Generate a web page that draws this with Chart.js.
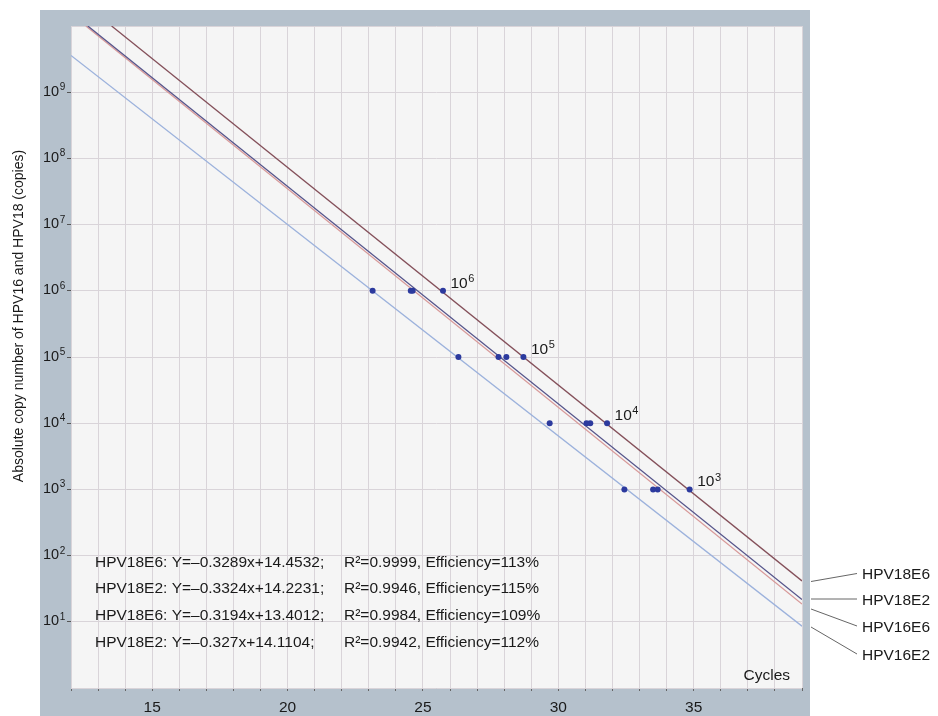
<!DOCTYPE html>
<html>
<head>
<meta charset="utf-8">
<script src="https://cdn.jsdelivr.net/npm/chart.js@4.4.1/dist/chart.umd.min.js"></script>
<style>
  html, body { margin: 0; padding: 0; background: #fff; }
  #wrap { width: 938px; height: 716px; }
</style>
</head>
<body>
<div id="wrap"><canvas id="chart" width="938" height="716"></canvas></div>
<script>
// standards (copies) and the Ct values
const standards = [1e6, 1e5, 1e4, 1e3];
const ctHPV18E6 = [25.74, 28.71, 31.80, 34.85];
const ctHPV18E2 = [24.55, 27.79, 31.04, 33.50];
const ctHPV16E6 = [24.62, 28.08, 31.18, 33.67];
const ctHPV16E2 = [23.14, 26.31, 29.68, 32.44];

// regression lines: where each one enters and leaves the plot
const lineHPV18E6 = [[13.50, 1e10], [39, 41.5]];
const lineHPV18E2 = [[12.62, 1e10], [39, 21.7]];
const lineHPV16E6 = [[12.55, 1e10], [39, 18.5]];
const lineHPV16E2 = [[12, 3.58e9], [39, 8.6]];

const seriesNames = ['HPV18E6', 'HPV18E2', 'HPV16E6', 'HPV16E2'];

// equation block (text as printed)
const eqNames = ['HPV18E6:', 'HPV18E2:', 'HPV18E6:', 'HPV18E2:'];
const eqFits = ['Y=\u20130.3289x+14.4532;', 'Y=\u20130.3324x+14.2231;', 'Y=\u20130.3194x+13.4012;', 'Y=\u20130.327x+14.1104;'];
const eqR2 = ['0.9999', '0.9946', '0.9984', '0.9942'];
const eqEff = ['113%', '115%', '109%', '112%'];

// axes
const xTicks = [12, 13, 14, 15, 16, 17, 18, 19, 20, 21, 22, 23, 24, 25, 26, 27, 28, 29, 30, 31, 32, 33, 34, 35, 36, 37, 38, 39];
const xTickLabels = [15, 20, 25, 30, 35];
const yTicks = [1, 1e1, 1e2, 1e3, 1e4, 1e5, 1e6, 1e7, 1e8, 1e9, 1e10];
const yTickExps = [1, 2, 3, 4, 5, 6, 7, 8, 9];

const FONT = '"Liberation Sans", Arial, Helvetica, sans-serif';
const TEXT = '#1a1a1a';
const lineColors = ['#84505a', '#55548a', '#d89a9a', '#9cb2dc'];

const pts = xs => xs.map((x, i) => ({ x: x, y: standards[i] }));
const seg = l => l.map(p => ({ x: p[0], y: p[1] }));

const dotStyle = {
  showLine: false,
  pointRadius: 3,
  pointBackgroundColor: '#2c3a9e',
  pointBorderWidth: 0,
  order: 0
};

function lineSet(data, color) {
  return {
    data: seg(data),
    showLine: true,
    borderColor: color,
    borderWidth: 1.3,
    pointRadius: 0,
    order: 1
  };
}

function drawPow(ctx, x, y, exp, size) {
  ctx.font = size + 'px ' + FONT;
  ctx.fillText('10', x, y);
  const w = ctx.measureText('10').width;
  ctx.font = Math.round(size * 0.68) + 'px ' + FONT;
  ctx.fillText(String(exp), x + w + 0.5, y - size * 0.38);
}

const framePlugin = {
  id: 'frame',
  beforeDraw(chart) {
    const { ctx, chartArea: a } = chart;
    ctx.save();
    ctx.fillStyle = '#fff';
    ctx.fillRect(0, 0, chart.width, chart.height);
    ctx.fillStyle = '#b5c1cc';
    ctx.fillRect(a.left - 31, a.top - 16, a.right - a.left + 39, chart.height - a.top + 16);
    ctx.fillStyle = '#f5f5f5';
    ctx.fillRect(a.left, a.top, a.right - a.left, a.bottom - a.top);
    ctx.restore();
  }
};

const textPlugin = {
  id: 'texts',
  afterDraw(chart) {
    const { ctx, chartArea: a, scales } = chart;
    ctx.save();
    ctx.fillStyle = TEXT;
    ctx.textAlign = 'left';
    ctx.textBaseline = 'alphabetic';

    // y tick labels 10^n
    yTickExps.forEach(e => {
      const y = scales.y.getPixelForValue(Math.pow(10, e));
      drawPow(ctx, 43, y + 3.5, e, 14.5);
    });

    // standard labels next to the HPV18E6 points
    ctHPV18E6.forEach((ct, i) => {
      const x = scales.x.getPixelForValue(ct) + 7.5;
      const y = scales.y.getPixelForValue(standards[i]) - 3;
      drawPow(ctx, x, y, Math.round(Math.log10(standards[i])), 15.5);
    });

    // equations
    ctx.font = '15.5px ' + FONT;
    const eqBase = [566.5, 593.3, 620, 646.8];
    eqNames.forEach((n, i) => {
      ctx.fillText(n + ' ' + eqFits[i], a.left + 24, eqBase[i]);
      ctx.fillText('R\u00b2=' + eqR2[i] + ', Efficiency=' + eqEff[i], a.left + 273, eqBase[i]);
    });

    // axis name inside the plot
    ctx.textAlign = 'right';
    ctx.fillText('Cycles', a.right - 12, 679.5);

    // series names to the right, with leader lines
    const leadFrom = [581.5, 599, 609, 627];
    const labelY = [573.5, 599, 626, 654];
    ctx.strokeStyle = '#666';
    ctx.lineWidth = 1;
    seriesNames.forEach((n, i) => {
      ctx.beginPath();
      ctx.moveTo(a.right + 9, leadFrom[i]);
      ctx.lineTo(857, labelY[i]);
      ctx.stroke();
    });
    ctx.textAlign = 'left';
    seriesNames.forEach((n, i) => {
      ctx.fillText(n, 862, labelY[i] + 5.5);
    });

    // y axis title
    ctx.translate(19, 316);
    ctx.rotate(-Math.PI / 2);
    ctx.textAlign = 'center';
    ctx.textBaseline = 'middle';
    ctx.font = '14px ' + FONT;
    ctx.fillText('Absolute copy number of HPV16 and HPV18 (copies)', 0, 0);
    ctx.restore();
  }
};

new Chart(document.getElementById('chart'), {
  type: 'scatter',
  data: {
    datasets: [
      Object.assign({ data: pts(ctHPV18E6) }, dotStyle),
      Object.assign({ data: pts(ctHPV18E2) }, dotStyle),
      Object.assign({ data: pts(ctHPV16E6) }, dotStyle),
      Object.assign({ data: pts(ctHPV16E2) }, dotStyle),
      lineSet(lineHPV18E6, lineColors[0]),
      lineSet(lineHPV18E2, lineColors[1]),
      lineSet(lineHPV16E6, lineColors[2]),
      lineSet(lineHPV16E2, lineColors[3])
    ]
  },
  options: {
    responsive: false,
    animation: false,
    devicePixelRatio: 1,
    layout: { padding: { left: 0, top: 26, right: 136, bottom: 0 } },
    plugins: { legend: { display: false }, tooltip: { enabled: false } },
    scales: {
      x: {
        type: 'linear',
        min: 12,
        max: 39,
        afterBuildTicks: s => { s.ticks = xTicks.map(v => ({ value: v })); },
        afterFit: s => { s.height = 28; },
        ticks: {
          autoSkip: false,
          maxRotation: 0,
          padding: 7,
          color: TEXT,
          font: { family: FONT, size: 15.5 },
          callback: v => xTickLabels.includes(v) ? String(v) : ''
        },
        grid: { color: '#d9d4d9', lineWidth: 1, tickLength: 3, tickColor: '#666' },
        border: { display: false }
      },
      y: {
        type: 'logarithmic',
        min: 1,
        max: 1e10,
        afterBuildTicks: s => { s.ticks = yTicks.map(v => ({ value: v, major: true })); },
        afterFit: s => { s.width = 71; },
        ticks: { callback: () => '' },
        grid: {
          color: '#d9d4d9',
          lineWidth: 1,
          tickLength: 4,
          tickColor: c => (c.tick && (c.tick.value === 1 || c.tick.value === 1e10)) ? 'rgba(0,0,0,0)' : '#555'
        },
        border: { display: false }
      }
    }
  },
  plugins: [framePlugin, textPlugin]
});
</script>
</body>
</html>
